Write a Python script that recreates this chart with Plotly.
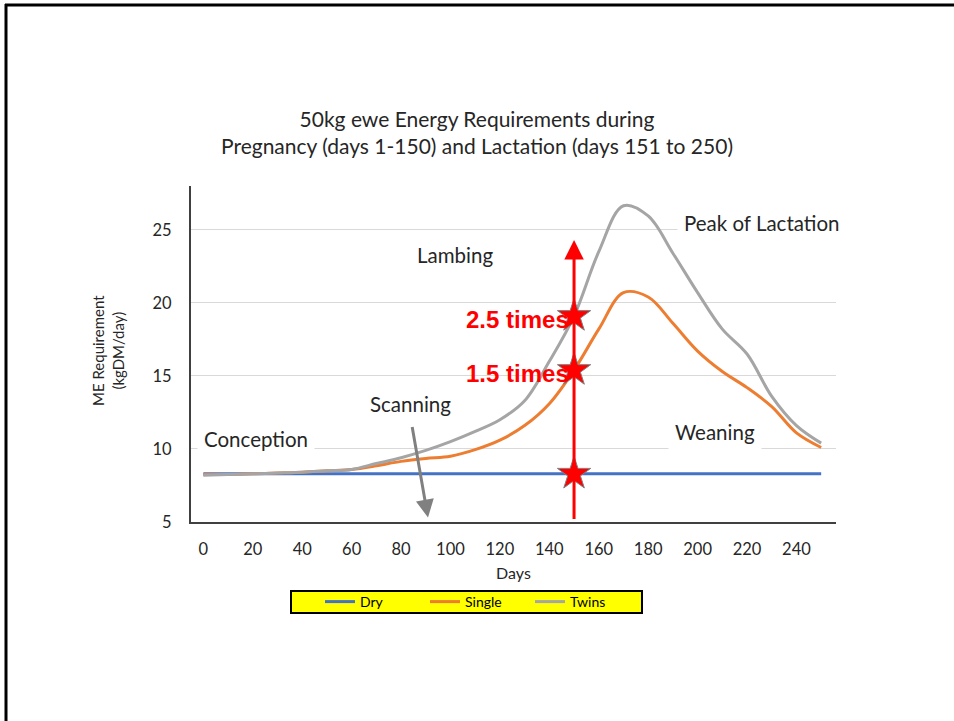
import plotly.graph_objects as go

# Days from conception (pregnancy 1-150, lactation 151-250)
days = [0, 10, 20, 30, 40, 50, 60, 70, 80, 90, 100, 110, 120, 130, 140,
        150, 160, 170, 180, 190, 200, 210, 220, 230, 240, 250]

# ME requirement (kg DM/day) for a 50 kg ewe
dry = [8.3] * len(days)
single = [8.25, 8.25, 8.3, 8.35, 8.4, 8.5, 8.6, 8.85, 9.15, 9.35, 9.5, 9.95,
          10.6, 11.6, 13.1, 15.4, 18.2, 20.7, 20.4, 18.6, 16.7, 15.3, 14.2,
          12.9, 11.1, 10.1]
twins = [8.2, 8.25, 8.3, 8.35, 8.4, 8.5, 8.6, 9.0, 9.4, 9.9, 10.5, 11.2,
         12.0, 13.3, 16.0, 19.1, 23.5, 26.65, 25.95, 23.4, 20.7, 18.2, 16.5,
         13.6, 11.6, 10.4]

# Marker points on the day-150 line
star_days = [150, 150, 150]
star_vals = [twins[15], single[15], dry[15]]
ratio_labels = ["2.5 times", "1.5 times"]

# Stage labels: (text, day, value)
stages = [
    ("Lambing", 102, 23.3),
    ("Peak of Lactation", 226, 25.5),
    ("Scanning", 84, 13.05),
    ("Conception", 21.5, 10.65),
    ("Weaning", 207, 11.15),
]

W, H = 954, 721
L, R, T, B = 191, 836, 186, 522  # plot area in pixels
pw, ph = R - L, B - T


def px_x(px):
    return (px - L) / pw


def px_y(py):
    return (B - py) / ph


TXT = "#262626"
FONT = "Lato"

fig = go.Figure()
fig.add_trace(go.Scatter(x=days, y=dry, name="Dry", mode="lines",
                         line=dict(color="#4472c4", width=3, shape="spline")))
fig.add_trace(go.Scatter(x=days, y=single, name="Single", mode="lines",
                         line=dict(color="#ed7d31", width=3, shape="spline")))
fig.add_trace(go.Scatter(x=days, y=twins, name="Twins", mode="lines",
                         line=dict(color="#a5a5a5", width=3, shape="spline")))

# Red arrow at day 150 (start of lactation)
fig.add_annotation(x=150, y=24.3, ax=150, ay=5.1, axref="x", ayref="y",
                   xref="x", yref="y", text="", showarrow=True,
                   arrowhead=2, arrowsize=1.3, arrowwidth=3, arrowcolor="#ff0000")

fig.add_trace(go.Scatter(x=star_days, y=star_vals, mode="markers", showlegend=False,
                         marker=dict(symbol="star", size=25, color="#ff0000",
                                     line=dict(color="#7f7f7f", width=1))))

# Scanning arrow
fig.add_annotation(x=90.9, y=5.3, ax=84.4, ay=11.6, axref="x", ayref="y",
                   xref="x", yref="y", text="", showarrow=True,
                   arrowhead=2, arrowsize=1.2, arrowwidth=3, arrowcolor="#808080")

# Ratio labels
for lab, val in zip(ratio_labels, star_vals[:2]):
    fig.add_annotation(x=148.4, y=val - 0.25, xref="x", yref="y", text=f"<b>{lab}</b>",
                       showarrow=False, xanchor="right", borderpad=0,
                       font=dict(family="Liberation Sans, Arial", size=24, color="#ff0000"))

# Stage labels with white boxes
for text, d, v in stages:
    fig.add_annotation(x=d, y=v, xref="x", yref="y", text=text, showarrow=False,
                       bgcolor="white", borderpad=6, xanchor="center",
                       font=dict(family=FONT, size=20.5, color=TXT))

# Y axis title
fig.add_annotation(x=px_x(87), y=px_y(351), xref="paper", yref="paper",
                   text="ME Requirement<br>(kgDM/day)", showarrow=False, textangle=-90,
                   font=dict(family=FONT, size=15, color=TXT))

# Legend box
fig.add_shape(type="rect", xref="paper", yref="paper",
              x0=px_x(291), x1=px_x(642), y0=px_y(591), y1=px_y(613),
              fillcolor="#ffff00", line=dict(color="black", width=2), layer="below")

# Slide frame lines
fig.add_shape(type="line", xref="paper", yref="paper", x0=px_x(5), x1=px_x(960),
              y0=px_y(5), y1=px_y(5), line=dict(color="black", width=3))
fig.add_shape(type="line", xref="paper", yref="paper", x0=px_x(6), x1=px_x(6),
              y0=px_y(4), y1=px_y(730), line=dict(color="black", width=3))

fig.update_layout(
    width=W, height=H,
    margin=dict(l=L, r=W - R, t=T, b=H - B),
    paper_bgcolor="white", plot_bgcolor="white",
    title=dict(text="50kg ewe Energy Requirements during<br>Pregnancy (days 1-150) and Lactation (days 151 to 250)",
               x=px_x(477), xref="paper", xanchor="center",
               y=1 - 127 / H, yanchor="middle",
               font=dict(family=FONT, size=21, color=TXT)),
    xaxis=dict(range=[-5, 256], tickmode="array", tickvals=list(range(0, 241, 20)),
               showgrid=False, zeroline=False, showline=True, linecolor="#404040",
               linewidth=2, ticks="", ticklabelstandoff=11,
               tickfont=dict(family=FONT, size=16.5, color=TXT),
               title=dict(text="Days", font=dict(family=FONT, size=16, color=TXT),
                          standoff=10)),
    yaxis=dict(range=[5, 28], tickvals=[5, 10, 15, 20, 25], showgrid=True,
               gridcolor="#d9d9d9", gridwidth=1, zeroline=False, showline=True,
               linecolor="#404040", linewidth=2, ticks="", ticklabelstandoff=14,
               tickfont=dict(family=FONT, size=16.5, color=TXT)),
    legend=dict(orientation="h", x=px_x(320), y=px_y(602), xanchor="left",
                yanchor="middle", bgcolor="rgba(0,0,0,0)", borderwidth=0,
                font=dict(family=FONT, size=14, color="black"),
                itemwidth=30, entrywidth=60),
    showlegend=True,
)

fig.write_html("out.html")
